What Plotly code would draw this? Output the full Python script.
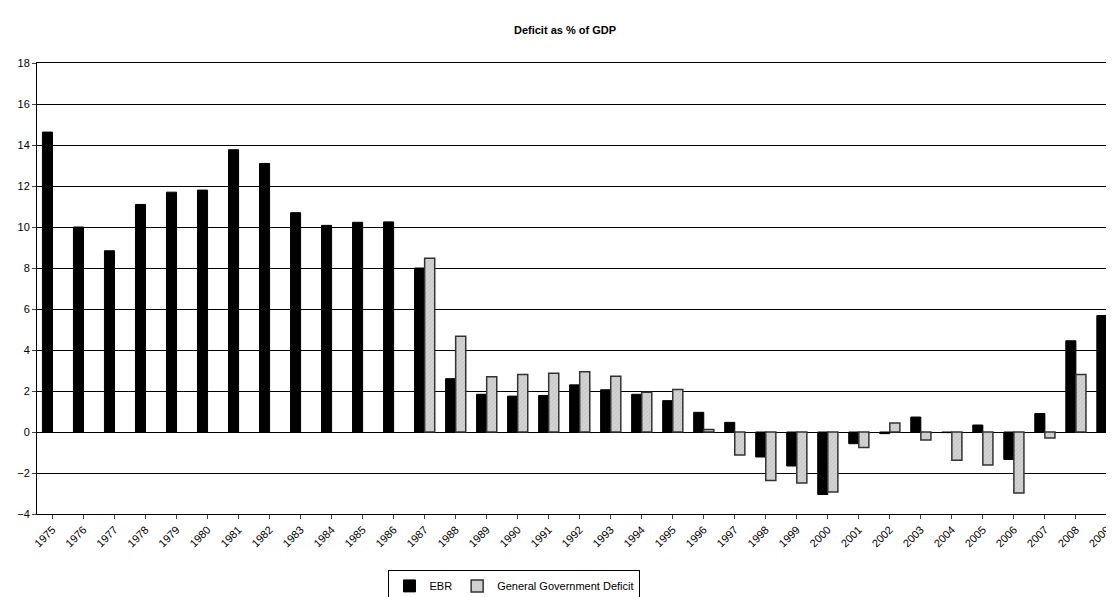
import plotly.graph_objects as go

years = [str(y) for y in range(1975, 2010)]
ebr = [14.63, 10.0, 8.84, 11.1, 11.7, 11.8, 13.77, 13.1, 10.7, 10.08, 10.23, 10.25, 8.0, 2.6,
       1.84, 1.75, 1.78, 2.3, 2.06, 1.84, 1.53, 0.96, 0.47, -1.22, -1.66, -3.05, -0.57, -0.08,
       0.73, -0.03, 0.34, -1.34, 0.9, 4.45, 5.68]
ggd = [None]*12 + [8.47, 4.67, 2.69, 2.81, 2.86, 2.94, 2.72, 1.94, 2.07, 0.12, -1.12, -2.36,
       -2.49, -2.93, -0.75, 0.44, -0.39, -1.38, -1.61, -2.98, -0.29, 2.81, 3.88]

fig = go.Figure()
fig.add_bar(x=years, y=ebr, name="EBR", marker=dict(color="black", line=dict(color="black", width=1)))
fig.add_bar(x=years, y=ggd, name="General Government Deficit",
            marker=dict(color="#d4d4d4", line=dict(color="#333333", width=1.5),
                        pattern=dict(shape="/", fgcolor="#b0b0b0", size=3, solidity=0.3)))
fig.update_layout(
    width=1114, height=597, paper_bgcolor="white", plot_bgcolor="white",
    margin=dict(l=29, r=12, t=55, b=91, autoexpand=False),
    title=dict(text="<b>Deficit as % of GDP</b>", x=0.5, xanchor="center", y=0.97,
               font=dict(family="Arial, Liberation Sans", size=11, color="black")),
    font=dict(family="Arial, Liberation Sans", size=11, color="black"),
    barmode="group", bargap=0.35, bargroupgap=0,
    showlegend=True,
    legend=dict(orientation="h", x=0.445, xanchor="center", y=-0.125, yanchor="top",
                bordercolor="black", borderwidth=1, font=dict(size=11),
                itemwidth=30, tracegroupgap=0),
)
fig.update_xaxes(range=[-0.5, 34.1], tickangle=-45, ticks="outside", ticklen=4, automargin=False,
                 showline=True, linecolor="black", mirror=True, showgrid=False)
fig.update_yaxes(range=[-4, 18], dtick=2, showgrid=True, gridcolor="black", gridwidth=1,
                 ticks="outside", ticklen=4, showline=True, linecolor="black", mirror=True,
                 automargin=False, zeroline=True, zerolinecolor="black", zerolinewidth=1)
fig.write_html("out.html")
